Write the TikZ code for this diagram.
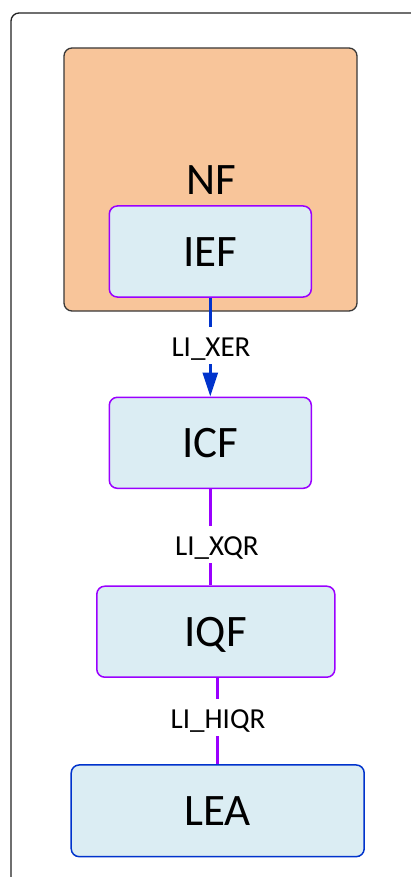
\documentclass[tikz,border=0pt]{standalone}
\usepackage{fontspec}
\setmainfont{Carlito}
\usetikzlibrary{arrows.meta}
\definecolor{nforange}{HTML}{F8C59A}
\definecolor{boxfill}{HTML}{DBEDF3}
\definecolor{violetline}{HTML}{9A00FF}
\definecolor{blueline}{HTML}{0033CC}
\definecolor{framegray}{HTML}{222222}
\begin{document}
\begin{tikzpicture}[x=1pt,y=-1pt,
  fbox/.style={draw=#1, fill=boxfill, line width=1.5pt, rounded corners=8pt,
    inner sep=0pt, text height=29pt, text depth=0pt,
    font=\fontsize{45}{54}\selectfont},
  conn/.style={draw=#1, line width=2.8pt},
  lbl/.style={fill=white, inner sep=2pt, text height=27.5pt, text depth=5.5pt,
    font=\fontsize{29}{35}\selectfont}
]
\useasboundingbox (0,0) rectangle (411,877);
\clip (0,0) rectangle (411,877);
% outer frame
\draw[framegray, line width=1.3pt, rounded corners=8pt] (11,13) rectangle (450,920);
% NF container
\node[draw=framegray!90, fill=nforange, line width=1.3pt, rounded corners=8pt,
  minimum width=293pt, minimum height=263pt, inner sep=0pt] (nf) at (210.5,179.5) {};
\node[anchor=base, inner sep=0pt, font=\fontsize{45}{54}\selectfont] (nftitle) at (211.5,195) {NF};
% function boxes
\node[fbox=violetline, minimum width=202pt, minimum height=91pt] (ief) at (210.3,251.5) {IEF};
\node[fbox=violetline, minimum width=202pt, minimum height=91pt] (icf) at (210.3,442.8) {ICF};
\node[fbox=violetline, minimum width=238pt, minimum height=91pt] (iqf) at (215.8,631.7) {IQF};
\node[fbox=blueline, minimum width=293pt, minimum height=91.7pt] (lea) at (217.7,810.8) {LEA};
% connectors
\draw[conn=blueline, -{Triangle[width=15pt,length=24pt]}] (ief.south) -- (icf.north);
\draw[conn=violetline] (icf.south) -- (icf.south |- iqf.north);
\draw[conn=violetline] (lea.north |- iqf.south) -- (lea.north);
% labels
\node[lbl, anchor=base] (lxer) at (211,356.7) {LI\_XER};
\node[lbl, anchor=base] (lxqr) at (216.8,555) {LI\_XQR};
\node[lbl, anchor=base] (lhiqr) at (218,728.3) {LI\_HIQR};
\end{tikzpicture}
\end{document}
